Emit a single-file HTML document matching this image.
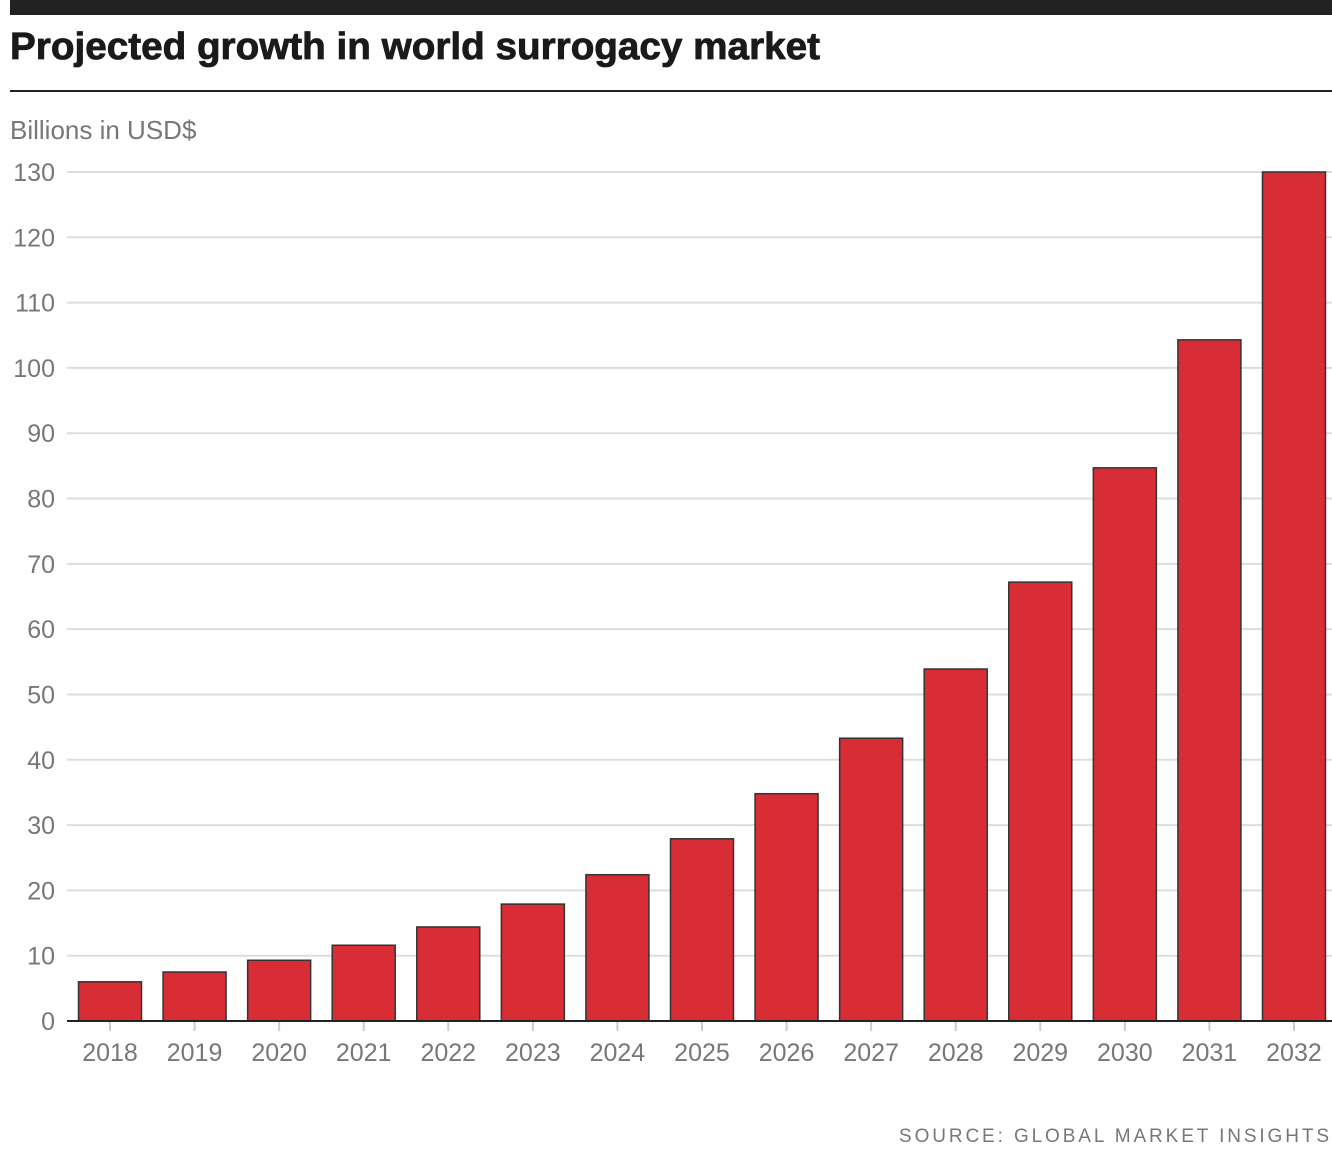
<!DOCTYPE html>
<html><head><meta charset="utf-8"><style>
body{margin:0;background:#fff;width:1332px;height:1169px;overflow:hidden;font-family:"Liberation Sans Narrow","Liberation Sans",sans-serif}
</style></head><body>
<svg width="1332" height="1169" xmlns="http://www.w3.org/2000/svg">
<rect x="10" y="0" width="1322" height="15" fill="#222"/>
<text x="10" y="59" font-family="Liberation Sans, sans-serif" font-weight="bold" font-size="38" fill="#1a1a1a" textLength="810" lengthAdjust="spacingAndGlyphs" stroke="#1a1a1a" stroke-width="0.8">Projected growth in world surrogacy market</text>
<rect x="10" y="90" width="1322" height="2" fill="#222"/>
<text x="10" y="139" font-size="26" fill="#777">Billions in USD$</text>
<g id="grid"></g><g id="bars"></g><g id="xaxis"></g>
<text x="899" y="1142" font-family="Liberation Sans, sans-serif" font-size="19" fill="#777" letter-spacing="3" textLength="433" lengthAdjust="spacing">SOURCE: GLOBAL MARKET INSIGHTS</text>
</svg>
<script>
const categories=["2018","2019","2020","2021","2022","2023","2024","2025","2026","2027","2028","2029","2030","2031","2032"];
const values=[6.0,7.5,9.3,11.6,14.4,17.9,22.4,27.9,34.8,43.3,53.9,67.2,84.7,104.3,130];
const yTicks=[0,10,20,30,40,50,60,70,80,90,100,110,120,130];
const NS="http://www.w3.org/2000/svg";
const y0=1021,y130=172,yMax=130;
const y=v=>y0-(y0-y130)*v/yMax;
const step=84.57,c0=110,bw=63;
const x=i=>c0+i*step;
function mk(t,a,p){const e=document.createElementNS(NS,t);for(const k in a)e.setAttribute(k,a[k]);p.appendChild(e);return e;}
const g=document.getElementById('grid'),b=document.getElementById('bars'),xa=document.getElementById('xaxis');
yTicks.forEach(t=>{
 if(t>0){const l=mk('line',{x1:67,x2:1332,y1:y(t),y2:y(t),stroke:'#ddd','stroke-width':2},g);
 
 }
 const tx=mk('text',{x:55,y:y(t)+9,'text-anchor':'end','font-size':25,fill:'#777'},g);
 tx.textContent=t;
 
 
});
categories.forEach((c,i)=>{
 const r=mk('rect',{x:x(i)-bw/2,y:y(values[i]),width:bw,height:y0-y(values[i]),fill:'#d92d35',stroke:'#333','stroke-width':1.5},b);
 
 
 const tk=mk('line',{x1:x(i),x2:x(i),y1:1022,y2:1031,stroke:'#ccc','stroke-width':2},xa);
 
 
 const t=mk('text',{x:x(i),y:1061,'text-anchor':'middle','font-size':25,fill:'#777'},xa);
 t.textContent=c;
 
 
});
const ax=mk('line',{x1:67,x2:1332,y1:y0,y2:y0,stroke:'#222','stroke-width':2},xa);


</script>
</body></html>
